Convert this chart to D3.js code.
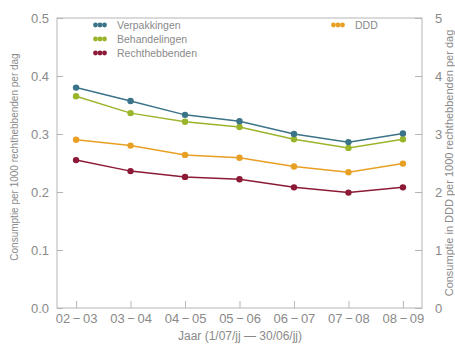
<!DOCTYPE html>
<html><head><meta charset="utf-8">
<script src="https://cdn.jsdelivr.net/npm/d3@7"></script>
<style>body{margin:0;background:#fff}svg{display:block}</style>
</head><body>
<svg id="c" width="455" height="347"></svg>
<script>
const categories = ["02\u2009\u2212\u200903","03\u2009\u2212\u200904","04\u2009\u2212\u200905","05\u2009\u2212\u200906","06\u2009\u2212\u200907","07\u2009\u2212\u200908","08\u2009\u2212\u200909"];
const verpakkingen = [0.380,0.357,0.333,0.322,0.300,0.286,0.301];
const behandelingen = [0.365,0.336,0.321,0.312,0.291,0.276,0.291];
const rechthebbenden = [0.255,0.236,0.226,0.222,0.208,0.199,0.208];
const ddd = [2.90,2.80,2.64,2.59,2.44,2.34,2.49];
const leftTicks = [0.0,0.1,0.2,0.3,0.4,0.5];
const rightTicks = [0,1,2,3,4,5];

const svg = d3.select("#c");
const L=57,R=422,T=18,B=308;
const font="'Liberation Sans', Arial, sans-serif";
const grey="#8a8a8a", axisC="#b5b5b5";
const x = d3.scalePoint().domain(categories).range([L,R]).padding(0.35);
const yL = d3.scaleLinear().domain([0,0.5]).range([B,T]);
const yR = d3.scaleLinear().domain([0,5]).range([B,T]);

// frame
svg.append("rect").attr("x",L).attr("y",T).attr("width",R-L).attr("height",B-T)
  .attr("fill","none").attr("stroke",axisC).attr("stroke-width",1);

function styleAxis(g){
  g.select(".domain").remove();
  g.selectAll(".tick line").attr("stroke",axisC);
  g.selectAll(".tick text").attr("fill",grey).attr("font-family",font).attr("font-size",13);
}
const gl = svg.append("g").attr("transform",`translate(${L},0)`)
  .call(d3.axisLeft(yL).tickValues(leftTicks).tickFormat(d3.format(".1f")).tickSizeInner(-6).tickPadding(8));
styleAxis(gl);
const gr = svg.append("g").attr("transform",`translate(${R},0)`)
  .call(d3.axisRight(yR).tickValues(rightTicks).tickFormat(d3.format("d")).tickSizeInner(-7).tickPadding(13));
styleAxis(gr);
const gx = svg.append("g").attr("transform",`translate(0,${B})`)
  .call(d3.axisBottom(x).tickSizeInner(-7).tickPadding(4));
styleAxis(gx);
gx.selectAll(".tick text").attr("dy","0.85em");

const series = [
  {name:"Verpakkingen", vals:verpakkingen, y:yL, color:"#3b7388"},
  {name:"Behandelingen", vals:behandelingen, y:yL, color:"#9bb52a"},
  {name:"Rechthebbenden", vals:rechthebbenden, y:yL, color:"#8c1a36"},
  {name:"DDD", vals:ddd, y:yR, color:"#e8a024"}
];
const drawOrder=[series[3],series[2],series[1],series[0]];
drawOrder.forEach(s=>{
  const line=d3.line().x((d,i)=>x(categories[i])).y(d=>s.y(d));
  svg.append("path").datum(s.vals).attr("d",line).attr("fill","none")
    .attr("stroke",s.color).attr("stroke-width",1.5);
  svg.selectAll(null).data(s.vals).enter().append("circle")
    .attr("cx",(d,i)=>x(categories[i])).attr("cy",d=>s.y(d)).attr("r",3.2).attr("fill",s.color);
});

// legend
const leg=[{s:series[0],x:93,y:25},{s:series[1],x:93,y:39},{s:series[2],x:93,y:53},{s:series[3],x:331,y:25}];
leg.forEach(l=>{
  [0,1,2].forEach(k=>svg.append("circle").attr("cx",l.x+2.5+k*4.5).attr("cy",l.y).attr("r",2.4).attr("fill",l.s.color));
  svg.append("text").attr("x",l.x+24).attr("y",l.y).attr("dy","0.35em")
    .attr("fill",grey).attr("font-family",font).attr("font-size",10.5).text(l.s.name);
});

// axis titles
svg.append("text").attr("x",240).attr("y",340).attr("text-anchor","middle")
  .attr("fill",grey).attr("font-family",font).attr("font-size",12).text("Jaar (1/07/jj \u2014 30/06/jj)");
svg.append("text").attr("transform","translate(18,157) rotate(-90)").attr("text-anchor","middle")
  .attr("fill",grey).attr("font-family",font).attr("font-size",10).text("Consumptie per 1000 rechthebbenden per dag");
svg.append("text").attr("transform","translate(453,163) rotate(-90)").attr("text-anchor","middle")
  .attr("fill",grey).attr("font-family",font).attr("font-size",11).text("Consumptie in DDD per 1000 rechthebbenden per dag");
</script>
</body></html>
